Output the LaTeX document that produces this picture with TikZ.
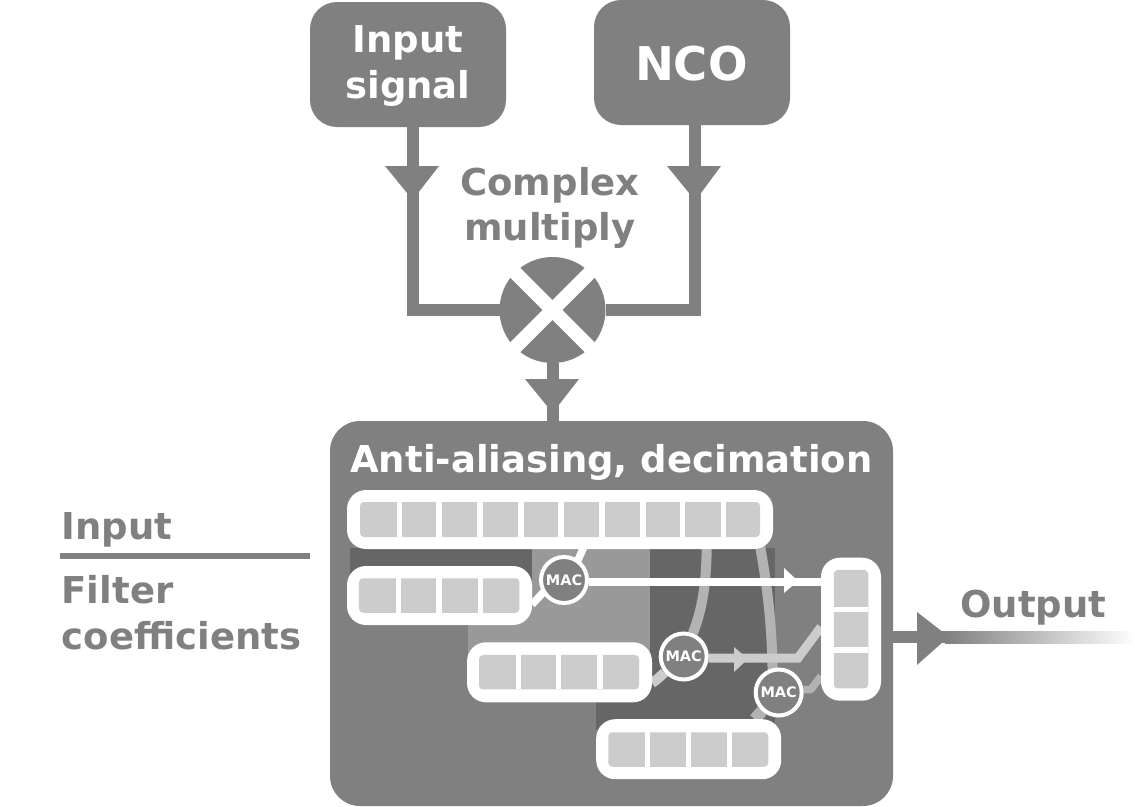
\documentclass[tikz,border=0pt]{standalone}
\usepackage{fontspec}
\setmainfont{DejaVu Sans}
\usetikzlibrary{calc}
\definecolor{mid}{HTML}{808080}
\definecolor{cell}{HTML}{CCCCCC}
\definecolor{tone}{HTML}{999999}
\definecolor{deep}{HTML}{666666}
\definecolor{wire}{HTML}{B3B3B3}
\pgfdeclarelayer{base}
\pgfdeclarelayer{wires}
\pgfsetlayers{base,wires,main}
\tikzset{
  x=1pt,y=-1pt,
  panel/.style={fill=mid,rounded corners=#1,inner sep=0pt,outer sep=0pt,text=white,font=\fontsize{37}{46}\selectfont\bfseries,align=center},
  panel/.default=27pt,
  shell/.style={fill=white,rounded corners=19pt,inner sep=0pt,outer sep=0pt},
  cellrow/.style={fill=cell,rounded corners=4pt,inner sep=0pt,outer sep=0pt},
  divider/.style={white,line width=5.2pt},
  thick wire/.style={mid,line width=12pt},
  lab/.style={text=mid,inner sep=0pt,font=\fontsize{37}{46}\selectfont\bfseries},
  mac/.style={circle,fill=mid,draw=white,line width=4pt,minimum size=46pt,inner sep=0pt,outer sep=2pt,text=white,font=\fontsize{14.5}{16}\selectfont\bfseries},
  whitewire/.style={white,line width=7.5pt},
  lightwire/.style={cell,line width=9pt,line join=miter},
  graywire/.style={wire,line width=10pt},
}
\begin{document}
\begin{tikzpicture}
\useasboundingbox (0,0) rectangle (1135,806);
\begin{pgfonlayer}{base}
% output gradient
\shade[left color=mid,right color=white,shading angle=90] (945,631) rectangle (1135,643);
% top boxes
\node[panel,minimum width=196pt,minimum height=125pt] (input) at (408,64.5) {};
\node[panel,minimum width=196pt,minimum height=125pt] (nco) at (692,62.5) {};
\node[panel,fill=none,anchor=center] (inputtext) at (408,66) {Input\\signal};
\node[panel,fill=none,font=\fontsize{46.5}{50}\selectfont\bfseries] (ncotext) at (691.3,64) {NCO};
% main box
\node[panel=30pt,minimum width=563pt,minimum height=385pt] (main) at (611.5,613.5) {};
% multiplier
\node[circle,fill=mid,minimum size=106pt,inner sep=0pt,outer sep=0pt] (mult) at (552.5,310) {};
% wires into multiplier
\coordinate (inA) at (412.5,127);
\coordinate (inB) at (695,125);
\draw[thick wire,line join=miter] (inA) |- (mult.west);
\draw[thick wire,line join=miter] (inB) |- (mult.east);
\draw[thick wire] (mult.south) -- (mult.south |- main.north);
\fill[mid] (385,166) -- (439,166) -- (418,193) -- (407,193) -- cycle;
\fill[mid] (667,166) -- (721,166) -- (701,193) -- (689,193) -- cycle;
\fill[mid] (525,379) -- (579,379) -- (558,406) -- (547,406) -- cycle;
% white cross
\draw[white,line width=14pt] ($(mult.center)+(-40,-40)$) -- ($(mult.center)+(40,40)$);
\draw[white,line width=14pt] ($(mult.center)+(-40,40)$) -- ($(mult.center)+(40,-40)$);
% output wire and head
\draw[thick wire] (main.east |- 0,637) -- (945,637);
\fill[mid] (917,612) -- (944,633) -- (944,641) -- (917,665) -- cycle;
% labels
\node[lab,anchor=center] (cm) at (550,209) {\begin{tabular}{@{}c@{}}Complex\\[-1pt]multiply\end{tabular}};
\node[panel,fill=none,anchor=base] (title) at (611.5,472) {Anti-aliasing, decimation};
\node[lab,anchor=base west] (linput) at (61.5,539) {Input};
\node[lab,anchor=base west] (lfilter) at (61.5,603) {Filter};
\node[lab,anchor=base west] (lcoef) at (61.5,649) {coefficients};
\node[lab,anchor=base west] (loutput) at (960,617) {Output};
\coordinate (ruleA) at (60,555.5);
\coordinate (ruleB) at (310,555.5);
\draw[mid,line width=6pt] (ruleA) -- (ruleB);
% stripes
\fill[deep] (596,548) rectangle (775,730);
\fill[tone] (468,548) rectangle (650,680);
\fill[deep] (350,548) rectangle (532,600);
\end{pgfonlayer}
% shells
\node[shell,minimum width=426pt,minimum height=59pt] (rowT) at (560,519.5) {};
\node[shell,minimum width=185pt,minimum height=59pt] (rowA) at (439.5,595.5) {};
\node[shell,minimum width=185pt,minimum height=60pt] (rowB) at (559.5,672.3) {};
\node[shell,minimum width=185pt,minimum height=60pt] (rowC) at (688.7,749.2) {};
\node[shell,minimum width=60pt,minimum height=143pt] (rowR) at (851,629.2) {};
% cells
\node[cellrow,minimum width=400pt,minimum height=35pt] (cellT) at (560,519.5) {};
\node[cellrow,minimum width=160.5pt,minimum height=34.5pt] (cellA) at (439.2,595.5) {};
\node[cellrow,minimum width=160pt,minimum height=34.5pt] (cellB) at (559,672.2) {};
\node[cellrow,minimum width=160pt,minimum height=34.5pt] (cellC) at (688.3,749.5) {};
\node[cellrow,minimum width=34.5pt,minimum height=118.5pt] (cellR) at (851,629.2) {};
\foreach \x in {399.5,439,480,521,561,602,643,682.5,723.5}
  \draw[divider] (\x,0 |- cellT.north) -- (\x,0 |- cellT.south);
\foreach \x in {398.3,439,480.3}
  \draw[divider] (\x,0 |- cellA.north) -- (\x,0 |- cellA.south);
\foreach \x in {518.3,558.7,600}
  \draw[divider] (\x,0 |- cellB.north) -- (\x,0 |- cellB.south);
\foreach \x in {647.7,688.3,729.3}
  \draw[divider] (\x,0 |- cellC.north) -- (\x,0 |- cellC.south);
\foreach \y in {609.3,650}
  \draw[divider] (cellR.west |- 0,\y) -- (cellR.east |- 0,\y);
% MAC units
\node[mac] (m1) at (564,580) {MAC};
\node[mac] (m2) at (683.7,656.5) {MAC};
\node[mac] (m3) at (778.7,692.5) {MAC};
% connectors, beneath shells and MACs
\begin{pgfonlayer}{wires}
\coordinate (tapA) at (587,540);
\coordinate (tapB) at (706.7,540);
\coordinate (tapC) at (759,540);
\coordinate (bendB) at (798,658);
\coordinate (bendC) at (811,689.5);
\draw[graywire] (tapC) .. controls (768,590) and (773,630) .. ([xshift=-6pt]m3.center);
\draw[graywire] (tapB) .. controls (707,590) and (700,615) .. (m2);
\draw[graywire,line width=12pt] ([xshift=66pt]rowC.north) -- (m3);
\draw[graywire,line width=7.5pt,line join=round] (m3.east |- bendC) -- (bendC) -- (rowR.west |- 0,676);
\draw[lightwire,line width=10pt] (rowB.east |- 0,683) .. controls (657,680) and (665,672) .. (m2);
\draw[lightwire] (m2.east |- bendB) -- (bendB) -- (rowR.west |- 0,627);
\fill[cell] (734,647) -- (748,659) -- (734,672) -- cycle;
\draw[whitewire] (tapA) -- ([xshift=5pt]m1.center);
\draw[whitewire] (rowA.east |- 0,604.5) -- ([yshift=10pt]m1.center);
\draw[whitewire] (m1.east |- 0,582) -- (rowR.west |- 0,582);
\fill[white] (784,568) -- (798,581) -- (784,593) -- cycle;
\end{pgfonlayer}
\end{tikzpicture}
\end{document}
